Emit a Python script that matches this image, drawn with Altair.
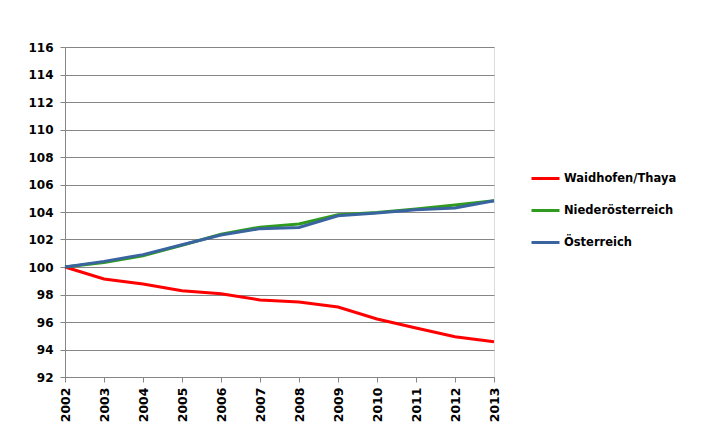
import altair as alt
import pandas as pd

years = list(range(2002, 2014))
series_names = ["Waidhofen/Thaya", "Niederösterreich", "Österreich"]
waidhofen = [100.0, 99.13, 98.76, 98.28, 98.06, 97.6, 97.45, 97.09, 96.22, 95.56, 94.93, 94.57]
noe = [100.0, 100.33, 100.82, 101.58, 102.38, 102.9, 103.13, 103.8, 103.97, 104.22, 104.51, 104.82]
oe = [100.0, 100.41, 100.9, 101.62, 102.33, 102.79, 102.88, 103.73, 103.93, 104.17, 104.29, 104.82]
colors = ["#FF0000", "#2E9B1F", "#3A64A0"]
y_ticks = list(range(92, 117, 2))

rows = []
for name, vals in zip(series_names, [waidhofen, noe, oe]):
    for i, (yr, v) in enumerate(zip(years, vals)):
        rows.append({"Jahr": yr, "Wert": v, "Serie": name, "order": series_names.index(name)})
df = pd.DataFrame(rows)

font = "DejaVu Sans"

chart = alt.Chart(df).mark_line(strokeWidth=3).encode(
    x=alt.X("Jahr:Q",
            scale=alt.Scale(domain=[2002, 2013], nice=False, zero=False),
            axis=alt.Axis(values=years, format="d", labelAngle=-90, grid=False,
                          title=None, labelFont=font, labelFontWeight="bold",
                          labelFontSize=12.5, labelColor="black", domainColor="#868686",
                          tickColor="#868686", tickSize=5, labelPadding=5,
                          labelAlign="right", labelBaseline="middle")),
    y=alt.Y("Wert:Q",
            scale=alt.Scale(domain=[92, 116], nice=False, zero=False),
            axis=alt.Axis(values=y_ticks, grid=True, gridColor="#868686", title=None,
                          labelFont=font, labelFontWeight="bold", labelFontSize=12,
                          labelColor="black", domainColor="#868686", tickColor="#868686",
                          tickSize=5, labelPadding=7)),
    color=alt.Color("Serie:N",
                    scale=alt.Scale(domain=series_names, range=colors),
                    sort=series_names,
                    legend=alt.Legend(title=None, orient="none", legendX=465, legendY=116,
                                      symbolType="stroke", symbolSize=784,
                                      symbolStrokeWidth=3, labelFont=font,
                                      labelFontWeight="bold", labelFontSize=11.5,
                                      labelColor="black", rowPadding=10, labelOffset=3)),
    order=alt.Order("order:Q"),
    detail="Serie:N",
).properties(
    width=429, height=330,
    padding={"left": 65, "top": 47, "right": 220, "bottom": 55},
    autosize=alt.AutoSizeParams(type="none"),
).configure_view(stroke=None).configure(background="white")

chart.save("out.html", embed_options={"renderer": "svg", "actions": False})
